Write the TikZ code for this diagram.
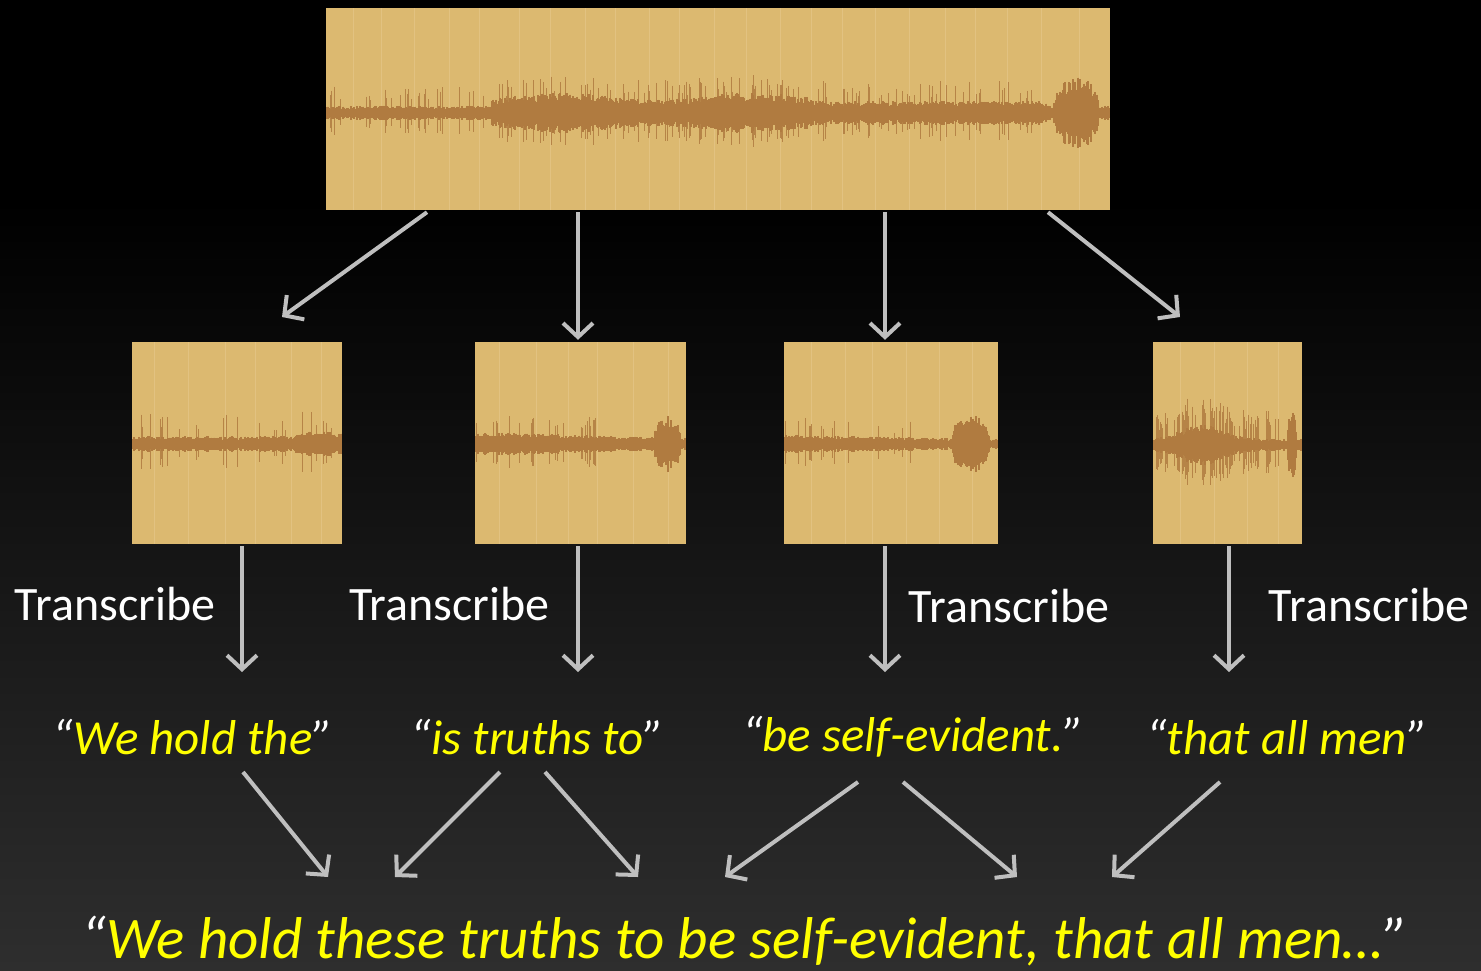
\documentclass[tikz,border=0pt]{standalone}
\usepackage{fontspec}
\setmainfont{Carlito}
\usetikzlibrary{arrows.meta}
\definecolor{boxc}{RGB}{220,185,112}
\definecolor{wavec}{RGB}{176,123,64}
\definecolor{stripec}{RGB}{232,204,146}
\definecolor{arrc}{RGB}{191,191,191}
\definecolor{bgbot}{RGB}{46,46,46}
\definecolor{qyellow}{RGB}{255,255,0}
\newcommand\wq[1]{{\color{white}“}#1{\color{white}”}}
% #1 x0, #2 x1, #3 centre y, #4 envelope (in \tp), #5 spike amplitude, #6 spike threshold
\newcommand\drawwave[6]{%
  \pgfmathtruncatemacro\wn{#2-#1}%
  \foreach \wk in {0,...,\wn}{%
    \pgfmathsetmacro\tp{\wk/\wn}%
    \pgfmathsetmacro\wa{(#4)*(0.65+0.55*rnd)}%
    \pgfmathsetmacro\ws{(rnd>#6)*(0.3+0.7*rnd)*(#5)}%
    \pgfmathsetmacro\wx{#1+\wk}%
    \draw[wspike] (\wx,#3-\wa-\ws) -- (\wx,#3+\wa+0.8*\ws);
    \draw[wbody] (\wx,#3-\wa) -- (\wx,#3+\wa);
  }%
}
\newcommand\stripes[4]{% x0, x1, y0, y1
  \pgfmathtruncatemacro\sn{(#2-#1)/33}%
  \foreach \sk in {1,...,\sn}{%
    \pgfmathsetmacro\sx{#1+33*\sk-12+8*rnd}%
    \draw[stripe] (\sx,#3) -- (\sx,#4);
  }%
}
\tikzset{
  wbox/.style={fill=boxc, draw=none, inner sep=0pt},
  wbody/.style={draw=wavec, line width=1.3pt},
  wspike/.style={draw=wavec, line width=0.9pt, opacity=0.85},
  stripe/.style={draw=stripec, line width=1pt, opacity=0.5},
  arr/.style={draw=arrc, line width=4pt, -{Straight Barb[length=14pt,width=30pt]}},
  trans/.style={text=white, font=\fontsize{48}{58}\selectfont, inner sep=0pt, anchor=base},
  quote/.style={text=qyellow, font=\fontsize{49}{58}\selectfont\itshape, inner sep=0pt, anchor=base},
  final/.style={text=qyellow, font=\fontsize{59}{68}\selectfont\itshape, inner sep=0pt, anchor=base}
}
\begin{document}
\begin{tikzpicture}[x=1pt, y=-1pt]
\pgfmathsetseed{7}
\useasboundingbox (0,0) rectangle (1481,970);
\fill[black] (0,0) rectangle (1481,970);
\shade[top color=black, bottom color=bgbot] (0,200) rectangle (1481,970);

% boxes
\node[wbox, minimum width=784pt, minimum height=202pt] (top) at (718,109) {};
\node[wbox, minimum width=210pt, minimum height=202pt] (b1) at (237,443) {};
\node[wbox, minimum width=211pt, minimum height=202pt] (b2) at (580.5,443) {};
\node[wbox, minimum width=214pt, minimum height=202pt] (b3) at (891,443) {};
\node[wbox, minimum width=149pt, minimum height=202pt] (b4) at (1227.5,443) {};

\stripes{326}{1110}{8}{210}
\stripes{132}{342}{342}{544}
\stripes{475}{686}{342}{544}
\stripes{784}{998}{342}{544}
\stripes{1153}{1302}{342}{544}

% waveforms
\drawwave{327}{1109}{113}{6+11*(\tp>0.21)*(\tp<0.62)*(0.75+0.25*sin(\tp*1500))+4*(\tp>=0.62)*(\tp<0.92)+24*sqrt(max(0,1-((\tp-0.958)/0.029)^2))}{22*(\tp<0.92)}{0.8}
\drawwave{133}{341}{444}{6.5+4*(\tp>0.78)}{26}{0.88}
\drawwave{476}{685}{444}{10-5*\tp+19*sqrt(max(0,1-((\tp-0.917)/0.064)^2))}{22*(\tp<0.6)}{0.88}
\drawwave{785}{997}{444}{8-4*\tp+21*sqrt(max(0,1-((\tp-0.876)/0.087)^2))}{20*(\tp<0.65)}{0.88}
\drawwave{1154}{1301}{445}{5+12*exp(-((\tp-0.33)/0.2)^2)+26*sqrt(max(0,1-((\tp-0.94)/0.03)^2))}{30*(\tp<0.85)}{0.55}

% labels
\node[trans] (tr1) at (115,620) {Transcribe};
\node[trans] (tr2) at (449.5,620) {Transcribe};
\node[trans] (tr3) at (1009,622) {Transcribe};
\node[trans] (tr4) at (1369,621) {Transcribe};

\node[quote] (q1) at (193,754) {\wq{We hold the}};
\node[quote] (q2) at (537.5,754) {\wq{is truths to}};
\node[quote] (q3) at (913,751) {\wq{be self-evident.}};
\node[quote] (q4) at (1287,754) {\wq{that all men}};

\node[final] (fin) at (745,958) {\wq{We hold these truths to be self-evident, that all men…}};

% connector ends
\coordinate (e1) at (282,317);
\coordinate (e4) at (1180,317);
\coordinate (d1) at (242,672);
\coordinate (d2) at (578,672);
\coordinate (d3) at (885,672);
\coordinate (d4) at (1229,672);
\coordinate (s1) at (243,772);
\coordinate (s2) at (500,772);
\coordinate (s3) at (545,772);
\coordinate (s4) at (858,782);
\coordinate (s5) at (903,782);
\coordinate (s6) at (1220,782);
\coordinate (f1) at (328,877);
\coordinate (f2) at (395,877);
\coordinate (f3) at (638,877);
\coordinate (f4) at (725,877);
\coordinate (f5) at (1017,877);
\coordinate (f6) at (1112,877);

\draw[arr] ([xshift=-291pt,yshift=-2pt]top.south) -- (e1);
\draw[arr] ([xshift=-140pt,yshift=-2pt]top.south) -- ([xshift=-2.5pt,yshift=2pt]b2.north);
\draw[arr] ([xshift=167pt,yshift=-2pt]top.south) -- ([xshift=-6pt,yshift=2pt]b3.north);
\draw[arr] ([xshift=330pt,yshift=-2pt]top.south) -- (e4);

\draw[arr] ([xshift=5pt,yshift=-2pt]b1.south) -- (d1);
\draw[arr] ([xshift=-2.5pt,yshift=-2pt]b2.south) -- (d2);
\draw[arr] ([xshift=-6pt,yshift=-2pt]b3.south) -- (d3);
\draw[arr] ([xshift=1.5pt,yshift=-2pt]b4.south) -- (d4);

\draw[arr] (s1) -- (f1);
\draw[arr] (s2) -- (f2);
\draw[arr] (s3) -- (f3);
\draw[arr] (s4) -- (f4);
\draw[arr] (s5) -- (f5);
\draw[arr] (s6) -- (f6);
\end{tikzpicture}
\end{document}
